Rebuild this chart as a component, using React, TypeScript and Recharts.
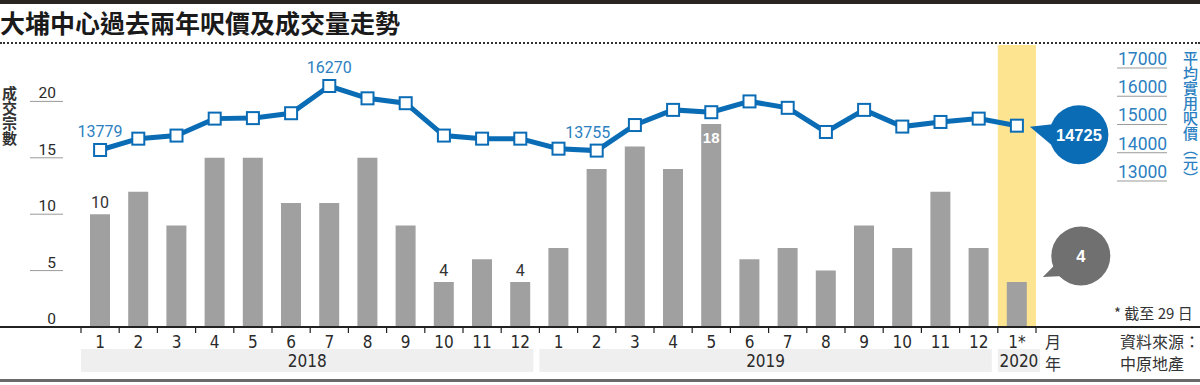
import { ComposedChart, Bar, Line, XAxis, YAxis, ReferenceArea, LabelList } from "recharts";

const months = ["1", "2", "3", "4", "5", "6", "7", "8", "9", "10", "11", "12", "1", "2", "3", "4", "5", "6", "7", "8", "9", "10", "11", "12", "1*"];
const deals = [10, 12, 9, 15, 15, 11, 11, 15, 9, 4, 6, 4, 7, 14, 16, 14, 18, 6, 7, 5, 9, 7, 12, 7, 4];
const prices = [13779, 14220, 14340, 15000, 15020, 15210, 16270, 15790, 15600, 14340, 14220, 14220, 13830, 13755, 14750, 15340, 15250, 15670, 15420, 14480, 15340, 14690, 14870, 15000, 14725];
const yearBands = [
    { label: "2018", span: 12 },
    { label: "2019", span: 12 },
    { label: "2020", span: 1 },
];
const dealTicks = [0, 5, 10, 15, 20];
const priceTicks = [13000, 14000, 15000, 16000, 17000];
const labelledPrices = [0, 6, 13];
const labelledDeals = [0, 9, 11];
const insideDeal = 16;

const W = 1200;
const H = 385;
const AXIS_H = 58;
const M = { top: 45, right: 0, bottom: 0, left: 0 };
const LEFT_W = 81;
const RIGHT_W = 164;
const BASE_Y = H - AXIS_H;
const BAND = (W - LEFT_W - RIGHT_W) / months.length;
const LAST = months.length - 1;

const BLUE = "#0b6cb6";
const TEXT_BLUE = "#2c7fc1";
const NUM_FONT = "'Liberation Sans Narrow', 'DejaVu Sans Condensed', Roboto, sans-serif";
const CJK = "'Noto Sans CJK TC', 'Noto Sans CJK SC', sans-serif";

const data = months.map((m, i) => ({ key: String(i), month: m, deals: deals[i], price: prices[i] }));

// start index of each year band
const bandStarts: Record<number, { label: string; span: number }> = {};
yearBands.reduce((start, b) => {
    bandStarts[start] = b;
    return start + b.span;
}, 0);

function MonthTick({ x, payload }: any) {
    const i = payload.index;
    const left = x - BAND / 2;
    const band = bandStarts[i];
    const isLastBand = band && i + band.span - 1 === LAST;
    const bandW = band ? band.span * BAND + (isLastBand ? 4 : -6) : 0;
    return (
        <g>
            <line x1={left} x2={left} y1={BASE_Y} y2={BASE_Y + 6} stroke="#222" strokeWidth={1.2} />
            {i === LAST && <line x1={left + BAND} x2={left + BAND} y1={BASE_Y} y2={BASE_Y + 6} stroke="#222" strokeWidth={1.2} />}
            <text x={x} y={BASE_Y + 21} textAnchor="middle" fontSize={17} fontFamily={NUM_FONT} fill="#2a2a2a">
                {months[i]}
            </text>
            {band && (
                <g>
                    <rect x={left} y={BASE_Y + 22} width={bandW} height={23} fill="#efefef" />
                    <text x={left + bandW / 2} y={BASE_Y + 40} textAnchor="middle" fontSize={17} fontFamily={NUM_FONT} fill="#2a2a2a">
                        {band.label}
                    </text>
                </g>
            )}
        </g>
    );
}

function DealTick({ y, payload }: any) {
    return (
        <g>
            {payload.value !== 0 && <line x1={30} x2={63} y1={y} y2={y} stroke="#9a9a9a" strokeWidth={1} />}
            <text x={56} y={y - 3} textAnchor="end" fontSize={15.5} fontFamily="Roboto, sans-serif" fill="#2a2a2a">
                {payload.value}
            </text>
        </g>
    );
}

function PriceTick({ y, payload }: any) {
    return (
        <g>
            <line x1={1117} x2={1167} y1={y} y2={y} stroke="#9a9a9a" strokeWidth={1} />
            <text x={1118} y={y - 3} fontSize={17.5} fontFamily="Roboto, sans-serif" fill={TEXT_BLUE}>
                {payload.value}
            </text>
        </g>
    );
}

function SquareDot({ cx, cy, index }: any) {
    return <rect key={index} x={cx - 6} y={cy - 6} width={12} height={12} fill="#fff" stroke={BLUE} strokeWidth={2} />;
}

function PriceLabel({ x, y, index, value }: any) {
    if (index === LAST) {
        return (
            <g>
                <polygon points={`${x + 13},${y + 1} ${x + 40},${y - 2} ${x + 45},${y + 28}`} fill={BLUE} />
                <circle cx={x + 62} cy={y + 9} r={29.5} fill={BLUE} />
                <text x={x + 62} y={y + 15} textAnchor="middle" fontSize={16.5} fontWeight={700} fontFamily="'Liberation Sans', Arial, sans-serif" fill="#fff">
                    {value}
                </text>
            </g>
        );
    }
    if (!labelledPrices.includes(index)) return null;
    const dx = index === 13 ? -9 : 0;
    return (
        <text x={x + dx} y={y - 13} textAnchor="middle" fontSize={16} fontFamily="Roboto, sans-serif" fill={TEXT_BLUE}>
            {value}
        </text>
    );
}

function DealLabel({ x, y, width, index, value }: any) {
    const cx = x + width / 2;
    if (index === LAST) {
        return (
            <g>
                <polygon points={`${cx + 26},${y - 5} ${cx + 37},${y - 16} ${cx + 47},${y - 6}`} fill="#707070" />
                <circle cx={cx + 64} cy={y - 26} r={29.5} fill="#707070" />
                <text x={cx + 64} y={y - 20} textAnchor="middle" fontSize={16.5} fontWeight={700} fontFamily="'Liberation Sans', Arial, sans-serif" fill="#fff">
                    {value}
                </text>
            </g>
        );
    }
    if (index === insideDeal) {
        return (
            <text x={cx} y={y + 19} textAnchor="middle" fontSize={15} fontWeight={700} fontFamily="'Liberation Sans', Arial, sans-serif" fill="#fff">
                {value}
            </text>
        );
    }
    if (!labelledDeals.includes(index)) return null;
    return (
        <text x={cx} y={y - 6} textAnchor="middle" fontSize={16} fontFamily="Roboto, sans-serif" fill="#333">
            {value}
        </text>
    );
}

const abs = (style: React.CSSProperties): React.CSSProperties => ({ position: "absolute", ...style });

export default function App() {
    return (
        <div style={{ position: "fixed", left: 0, top: 0, width: W, height: H, background: "#fff", overflow: "hidden" }}>
            <div style={abs({ left: 0, top: 0, width: W, height: 4, background: "#2b2522" })} />
            <div style={abs({ left: 0, top: 5, fontFamily: CJK, fontSize: 25, fontWeight: 700, lineHeight: "34px", color: "#1a1a1a", whiteSpace: "nowrap" })}>
                大埔中心過去兩年呎價及成交量走勢
            </div>
            <div style={abs({ left: 0, top: 42, width: W, borderTop: "2px dotted #333" })} />

            <div style={abs({ left: 0, top: 0 })}>
                <ComposedChart width={W} height={H} data={data} margin={M} barCategoryGap={0}>
                    <XAxis dataKey="key" interval={0} axisLine={false} tickLine={false} tick={<MonthTick />} height={AXIS_H} />
                    <YAxis yAxisId="deals" domain={[0, 25]} ticks={dealTicks} width={LEFT_W} axisLine={false} tickLine={false} tick={<DealTick />} />
                    <YAxis
                        yAxisId="priceAxis"
                        orientation="right"
                        type="number"
                        domain={[7832, 17814]}
                        allowDataOverflow
                        ticks={priceTicks}
                        width={RIGHT_W}
                        axisLine={false}
                        tickLine={false}
                        tick={<PriceTick />}
                    />
                    <YAxis yAxisId="price" domain={[6888, 17866]} allowDataOverflow hide />
                    <ReferenceArea yAxisId="deals" x1={String(LAST)} x2={String(LAST)} fill="#fde490" fillOpacity={1} stroke="none" />
                    <Bar yAxisId="deals" dataKey="deals" fill="#a0a0a0" barSize={20} isAnimationActive={false}>
                        <LabelList dataKey="deals" content={<DealLabel />} />
                    </Bar>
                    <Line
                        yAxisId="price"
                        dataKey="price"
                        type="linear"
                        stroke={BLUE}
                        strokeWidth={5}
                        dot={<SquareDot />}
                        activeDot={false}
                        isAnimationActive={false}
                    >
                        <LabelList dataKey="price" content={<PriceLabel />} />
                    </Line>
                </ComposedChart>
            </div>

            <div style={abs({ left: 0, top: BASE_Y - 1, width: W, height: 1.5, background: "#222" })} />
            <div style={abs({ left: 0, top: 379, width: W, height: 3, background: "#6a6a6a" })} />

            <div style={abs({ left: 2, top: 86, writingMode: "vertical-rl", fontFamily: CJK, fontSize: 15, fontWeight: 700, lineHeight: "15px", letterSpacing: 0, color: "#333" })}>
                成交宗數
            </div>
            <div style={abs({ left: 1183, top: 51, writingMode: "vertical-rl", fontFamily: CJK, fontSize: 15, fontWeight: 500, lineHeight: "15px", letterSpacing: 0, color: TEXT_BLUE })}>
                平均實用呎價（元）
            </div>
            <div style={abs({ left: 1114, top: 303, fontFamily: CJK, fontSize: 15, color: "#333", whiteSpace: "nowrap", lineHeight: "20px" })}>
                * 截至 29 日
            </div>
            <div style={abs({ left: 1045, top: 331, fontFamily: CJK, fontSize: 16, color: "#333", lineHeight: "20px" })}>月</div>
            <div style={abs({ left: 1045, top: 353, fontFamily: CJK, fontSize: 16, color: "#333", lineHeight: "20px" })}>年</div>
            <div style={abs({ left: 1120, top: 331, fontFamily: CJK, fontSize: 16, color: "#333", lineHeight: "20px", whiteSpace: "nowrap" })}>
                資料來源：
            </div>
            <div style={abs({ left: 1120, top: 353, fontFamily: CJK, fontSize: 16, color: "#333", lineHeight: "20px", whiteSpace: "nowrap" })}>
                中原地產
            </div>
        </div>
    );
}
